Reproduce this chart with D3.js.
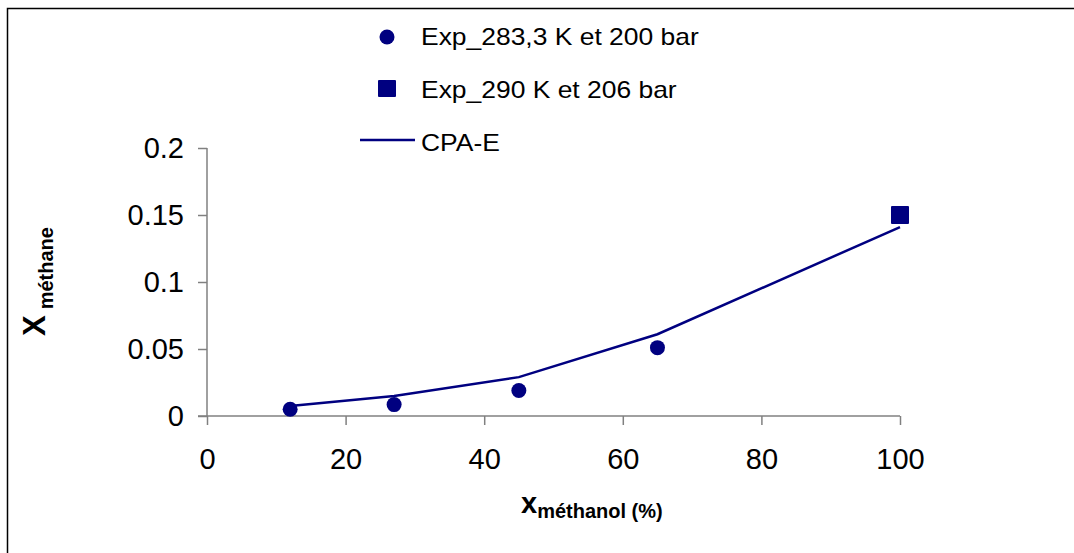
<!DOCTYPE html>
<html>
<head>
<meta charset="utf-8">
<script src="https://cdn.jsdelivr.net/npm/d3@7"></script>
<style>
  body { margin: 0; background: #fff; }
  svg { font-family: Arial, "Liberation Sans", sans-serif; }
</style>
</head>
<body>
<div id="chart"></div>
<script>
// data
var expCircleX = [12, 27, 45, 65];
var expCircleY = [0.005, 0.0085, 0.019, 0.051];
var expSquareX = [100];
var expSquareY = [0.15];
var cpaX = [12, 27, 45, 65, 100];
var cpaY = [0.0075, 0.015, 0.029, 0.061, 0.141];
var xTicks = [0, 20, 40, 60, 80, 100];
var yTicks = [0, 0.05, 0.1, 0.15, 0.2];
var legendLabels = ["Exp_283,3 K et 200 bar", "Exp_290 K et 206 bar", "CPA-E"];

var W = 1074, H = 553;
var navy = "#000080";

var svg = d3.select("#chart").append("svg")
  .attr("width", W)
  .attr("height", H);

// outer frame
svg.append("rect")
  .attr("x", 7.5).attr("y", 8.5)
  .attr("width", 1080).attr("height", 560)
  .attr("fill", "none")
  .attr("stroke", "#000")
  .attr("stroke-width", 1.5);

var xScale = d3.scaleLinear().domain([0, 100]).range([207, 900]);
var yScale = d3.scaleLinear().domain([0, 0.2]).range([416, 148]);

var xAxis = svg.append("g")
  .attr("transform", "translate(0," + yScale(0) + ")")
  .call(d3.axisBottom(xScale).tickValues(xTicks).tickSize(9).tickSizeOuter(0).tickPadding(23)
    .tickFormat(d3.format("d")));

var yAxis = svg.append("g")
  .attr("transform", "translate(" + xScale(0) + ",0)")
  .call(d3.axisLeft(yScale).tickValues(yTicks).tickSize(9).tickSizeOuter(0).tickPadding(14)
    .tickFormat(function(d) { return d === 0 ? "0" : String(d); }));

[xAxis, yAxis].forEach(function(g) {
  g.select(".domain").attr("stroke", "#808080").attr("stroke-width", 1.5);
  g.selectAll(".tick line").attr("stroke", "#808080").attr("stroke-width", 1.5);
  g.selectAll(".tick text")
    .attr("font-family", "Arial, 'Liberation Sans', sans-serif")
    .attr("font-size", "29px")
    .attr("fill", "#000");
});
yAxis.select(".domain").attr("d", "M0," + yScale(0.2) + "V" + yScale(0));
xAxis.select(".domain").attr("d", "M" + (xScale(0) - 9) + ",0H" + xScale(100));

// CPA-E line
var cpaData = cpaX.map(function(x, i) { return [x, cpaY[i]]; });
var line = d3.line()
  .x(function(d) { return xScale(d[0]); })
  .y(function(d) { return yScale(d[1]); });

svg.append("path")
  .datum(cpaData)
  .attr("d", line)
  .attr("fill", "none")
  .attr("stroke", navy)
  .attr("stroke-width", 2.5);

// circles
var circData = expCircleX.map(function(x, i) { return [x, expCircleY[i]]; });
svg.selectAll("circle.exp")
  .data(circData)
  .enter()
  .append("circle")
  .attr("class", "exp")
  .attr("cx", function(d) { return xScale(d[0]); })
  .attr("cy", function(d) { return yScale(d[1]); })
  .attr("r", 7.5)
  .attr("fill", navy);

// squares
var sqData = expSquareX.map(function(x, i) { return [x, expSquareY[i]]; });
svg.selectAll("rect.exp")
  .data(sqData)
  .enter()
  .append("rect")
  .attr("class", "exp")
  .attr("x", function(d) { return xScale(d[0]) - 9; })
  .attr("y", function(d) { return yScale(d[1]) - 9; })
  .attr("width", 18)
  .attr("height", 18)
  .attr("rx", 1)
  .attr("fill", navy);

// legend (text in the original is a bit stretched sideways)
var leg = svg.append("g");
leg.append("circle").attr("cx", 387).attr("cy", 37).attr("r", 7.5).attr("fill", navy);
leg.append("rect").attr("x", 378).attr("y", 80).attr("width", 18).attr("height", 17).attr("rx", 1).attr("fill", navy);
leg.append("line").attr("x1", 360).attr("x2", 415).attr("y1", 140).attr("y2", 140)
  .attr("stroke", navy).attr("stroke-width", 2.5);
leg.selectAll("text")
  .data(legendLabels)
  .enter()
  .append("text")
  .attr("transform", function(d, i) { return "translate(421," + (45 + i * 53) + ") scale(1.15,1)"; })
  .attr("font-size", "23px")
  .attr("fill", "#000")
  .text(function(d) { return d; });

// axis titles
var xt = svg.append("text")
  .attr("x", 521)
  .attr("y", 513)
  .attr("font-weight", "bold")
  .attr("fill", "#000");
xt.append("tspan").attr("font-size", "29px").text("x");
xt.append("tspan").attr("font-size", "20px").attr("dy", 5).text("méthanol (%)");

var yt = svg.append("text")
  .attr("transform", "translate(45,336) rotate(-90)")
  .attr("font-weight", "bold")
  .attr("fill", "#000");
yt.append("tspan").attr("font-size", "31px").text("X");
yt.append("tspan").attr("font-size", "20px").attr("dx", 6).attr("dy", 8).text("méthane");
</script>
</body>
</html>
